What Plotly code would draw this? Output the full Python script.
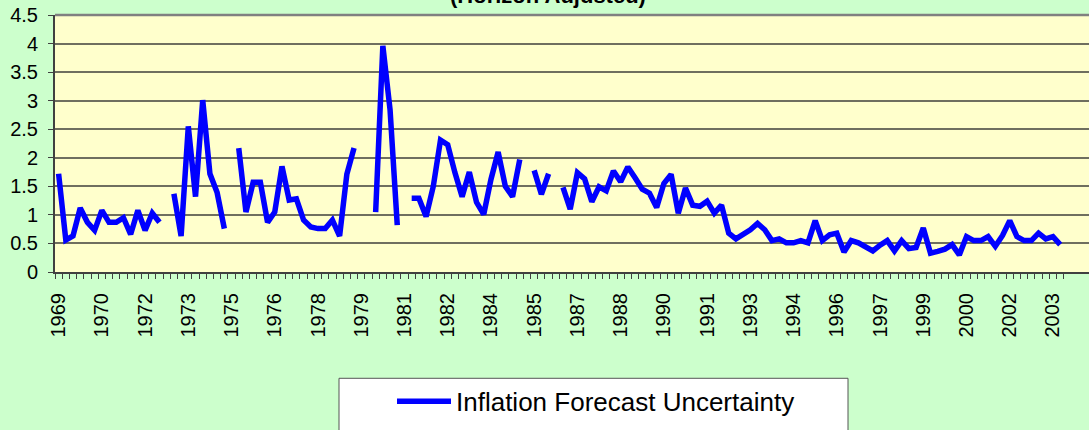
import plotly.graph_objects as go

# ---- data ----
years = list(range(1969, 2004))
quarters = ["Q1", "Q2", "Q3", "Q4"]
quarter_labels = [f"{y}{q}" for y in years for q in quarters]

# year shown under every 6th quarter (Excel-style category label skip)
label_years = ["1969", "1970", "1972", "1973", "1975", "1976", "1978", "1979",
               "1981", "1982", "1984", "1985", "1987", "1988", "1990", "1991",
               "1993", "1994", "1996", "1997", "1999", "2000", "2002", "2003"]
label_skip = 6

uncertainty = [
    1.72, 0.56, 0.63, 1.12, 0.87, 0.73, 1.08, 0.87, 0.87, 0.95, 0.66, 1.08, 0.73, 1.03, 0.87,
    None,
    1.37, 0.63, 2.55, 1.32, 3.01, 1.72, 1.39, 0.76,
    None,
    2.17, 1.05, 1.57, 1.57, 0.87, 1.05, 1.85, 1.26, 1.28, 0.91, 0.79, 0.76, 0.76, 0.91, 0.63, 1.71, 2.17,
    None, None,
    1.05, 3.96, 2.84, 0.82,
    None,
    1.29, 1.29, 0.97, 1.50, 2.31, 2.23, 1.74, 1.32, 1.75, 1.22, 1.01, 1.62, 2.10, 1.50, 1.32, 1.97,
    None,
    1.78, 1.36, 1.72,
    None,
    1.48, 1.10, 1.74, 1.63, 1.23, 1.49, 1.42, 1.77, 1.58, 1.84,
    1.65, 1.45, 1.38, 1.13, 1.55, 1.71, 1.03, 1.47, 1.17, 1.15,
    1.24, 1.03, 1.17, 0.68, 0.58, 0.65, 0.74, 0.85, 0.74, 0.55,
    0.58, 0.51, 0.51, 0.55, 0.51, 0.90, 0.55, 0.65, 0.68, 0.35,
    0.55, 0.51, 0.43, 0.37, 0.47, 0.55, 0.37, 0.55, 0.41, 0.43,
    0.77, 0.33, 0.36, 0.40, 0.48, 0.30, 0.62, 0.55, 0.55, 0.62,
    0.45, 0.64, 0.90, 0.62, 0.55, 0.55, 0.68, 0.58, 0.62, 0.48,
]

series_name = "Inflation Forecast Uncertainty"
subtitle = "(Horizon Adjusted)"

# tick text: year every label_skip quarters, blank otherwise
tick_text = []
for i, q in enumerate(quarter_labels):
    if i % label_skip == 0 and i // label_skip < len(label_years):
        tick_text.append(label_years[i // label_skip])
    else:
        tick_text.append("")

FONT = "Liberation Sans, Arial, sans-serif"
AX = "#404040"
GRID = "#6f6f5f"

fig = go.Figure()
fig.add_trace(go.Scatter(
    x=quarter_labels, y=uncertainty, mode="lines", name=series_name,
    line=dict(color="#0000FF", width=5.5), connectgaps=False,
))

fig.update_layout(
    width=1089, height=430,
    paper_bgcolor="#CCFFCC", plot_bgcolor="#FFFFCC",
    margin=dict(l=55, r=0, t=15, b=157.5, autoexpand=False),
    font=dict(family=FONT, color="black"),
    showlegend=True,
    legend=dict(
        x=(392 - 55) / 1034, xanchor="left",
        y=(272.5 - 402) / 257.5, yanchor="middle",
        bgcolor="rgba(0,0,0,0)", borderwidth=0,
        itemwidth=54,
        font=dict(family=FONT, size=26, color="black"),
    ),
    xaxis=dict(
        type="category", categoryorder="array", categoryarray=quarter_labels,
        range=[-0.5, 143.0],
        tickmode="array", tickvals=quarter_labels, ticktext=tick_text,
        tickson="boundaries", ticks="outside", ticklen=5, tickwidth=1, tickcolor=AX,
        tickangle=-90, tickfont=dict(family=FONT, size=20, color="black"),
        ticklabelstandoff=11,
        showline=True, linecolor=AX, linewidth=2,
        showgrid=False, zeroline=False, automargin=False,
    ),
    yaxis=dict(
        range=[0, 4.5], dtick=0.5, tick0=0,
        ticks="outside", ticklen=5, tickwidth=1, tickcolor=AX,
        tickfont=dict(family=FONT, size=20, color="black"),
        ticklabelstandoff=6,
        showline=True, linecolor=AX, linewidth=2,
        showgrid=True, gridcolor=GRID, gridwidth=1.5,
        zeroline=False, automargin=False,
    ),
    shapes=[
        # plot-area top border
        dict(type="line", xref="paper", yref="paper", x0=0, x1=1, y0=1, y1=1,
             line=dict(color="#808080", width=2.5), layer="above"),
        # legend box
        dict(type="rect", xref="paper", yref="paper",
             x0=(339 - 55) / 1034, x1=(848 - 55) / 1034,
             y0=(272.5 - 379) / 257.5, y1=(272.5 - 450) / 257.5,
             fillcolor="white", line=dict(color="#555555", width=1), layer="above"),
    ],
    annotations=[
        dict(text="<b>" + subtitle + "</b>", xref="paper", yref="paper",
             x=(548 - 55) / 1034, y=(272.5 - 10) / 257.5,
             xanchor="center", yanchor="bottom", showarrow=False,
             font=dict(family=FONT, size=22, color="black")),
    ],
)

fig.write_html(
    "out.html",
    config={"displayModeBar": False},
    post_script="document.body.style.margin='0';document.body.style.overflow='hidden';"
                "document.body.style.background='#CCFFCC';",
)
